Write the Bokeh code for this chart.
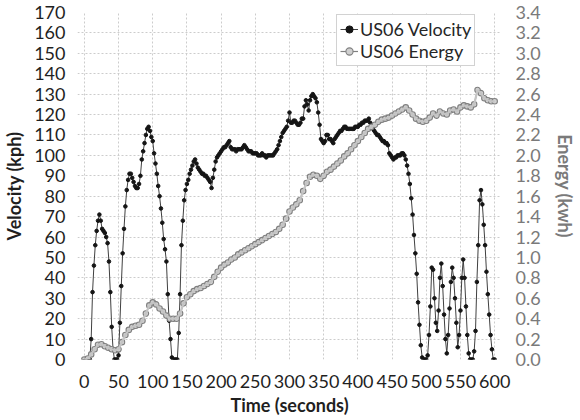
from bokeh.plotting import figure
from bokeh.models import (Range1d, LinearAxis, FixedTicker, Legend, LegendItem,
                          PrintfTickFormatter)
from bokeh.embed import file_html
from bokeh.resources import INLINE

# ---- data ----
time_s = list(range(0, 601, 2))
velocity_kph = [
    0, 0, 0, 0, 0, 10, 33, 46, 56, 63, 68, 71, 68, 64, 63, 62, 60, 57, 48, 33, 16, 5, 0, 0, 0,
    2, 18, 36, 52, 64, 75, 83, 88, 91, 91, 89, 87, 85, 84, 84, 86, 90, 98, 102, 106, 110, 113, 114, 112, 109,
    107, 101, 96, 91, 85, 80, 74, 67, 59, 54, 48, 32, 19, 10, 1, 0, 0, 0, 0, 13, 32, 56, 68, 78, 83,
    86, 88, 91, 93, 95, 97, 98, 96, 94, 93, 92, 91, 91, 90, 90, 89, 88, 87, 84, 89, 93, 97, 99, 100, 101,
    102, 103, 104, 104, 105, 106, 107, 104, 103, 103, 103, 102, 103, 103, 103, 103, 104, 105, 104, 103, 102, 102, 102, 101, 101,
    101, 101, 100, 100, 100, 101, 100, 100, 99, 100, 100, 100, 100, 100, 101, 102, 103, 105, 107, 109, 111, 112, 113, 114, 117,
    121, 116, 116, 117, 117, 116, 115, 115, 116, 118, 118, 124, 127, 125, 122, 127, 129, 130, 129, 128, 126, 121, 115, 108, 107,
    106, 107, 110, 110, 108, 108, 107, 106, 108, 109, 110, 111, 112, 112, 113, 114, 114, 113, 113, 113, 113, 113, 113, 114, 114,
    114, 115, 115, 116, 116, 117, 117, 117, 118, 116, 115, 113, 112, 111, 110, 110, 109, 108, 107, 107, 106, 106, 105, 101, 100,
    99, 98, 99, 99, 100, 100, 100, 101, 101, 100, 98, 95, 91, 86, 79, 71, 61, 52, 42, 28, 17, 7, 1, 0, 0,
    0, 2, 12, 26, 45, 44, 30, 18, 14, 24, 40, 47, 36, 22, 10, 3, 12, 25, 38, 45, 40, 30, 18, 6, 12,
    24, 40, 49, 40, 26, 12, 3, 0, 0, 0, 4, 14, 38, 56, 78, 83, 76, 66, 56, 43, 32, 22, 12, 5, 0,
    0,
]

energy_time_s = list(range(0, 601, 5))
energy_kwh = [
    0.00, 0.01, 0.05, 0.10, 0.145, 0.15, 0.13, 0.115, 0.10, 0.09,
    0.10, 0.17, 0.24, 0.29, 0.32, 0.33, 0.34, 0.38, 0.45, 0.53,
    0.56, 0.54, 0.50, 0.47, 0.43, 0.40, 0.40, 0.40, 0.45, 0.55,
    0.61, 0.64, 0.67, 0.69, 0.70, 0.72, 0.74, 0.76, 0.81, 0.86,
    0.90, 0.93, 0.95, 0.98, 1.00, 1.03, 1.05, 1.07, 1.09, 1.11,
    1.13, 1.15, 1.17, 1.19, 1.21, 1.23, 1.25, 1.28, 1.32, 1.38,
    1.45, 1.49, 1.52, 1.56, 1.65, 1.73, 1.79, 1.81, 1.80, 1.77,
    1.80, 1.84, 1.86, 1.89, 1.92, 1.95, 1.99, 2.02, 2.06, 2.10,
    2.14, 2.18, 2.22, 2.26, 2.28, 2.30, 2.33, 2.35, 2.36, 2.37,
    2.39, 2.41, 2.43, 2.45, 2.47, 2.44, 2.40, 2.36, 2.34, 2.33,
    2.34, 2.37, 2.41, 2.39, 2.43, 2.41, 2.40, 2.44, 2.45, 2.43,
    2.47, 2.49, 2.48, 2.47, 2.50, 2.64, 2.61, 2.56, 2.54, 2.53,
    2.53,
]

time_ticks = list(range(0, 601, 50))
velocity_ticks = list(range(0, 171, 10))
energy_ticks = [round(0.2 * i, 1) for i in range(18)]

FONT = "Lato"

p = figure(width=578, height=418, output_backend="svg", toolbar_location=None,
           x_range=Range1d(-10, 610), y_range=Range1d(0, 170),
           min_border_left=71, min_border_right=66, min_border_top=12,
           min_border_bottom=57)
p.extra_y_ranges = {"energy": Range1d(0, 3.4)}
p.outline_line_color = None
p.background_fill_color = "white"
p.border_fill_color = "white"

# grids
for g in (p.xgrid[0], p.ygrid[0]):
    g.grid_line_color = "#cccccc"
    g.grid_line_dash = "2 2"
    g.grid_line_width = 1

# bottom axis
xa = p.xaxis[0]
xa.ticker = FixedTicker(ticks=time_ticks)
xa.axis_label = "Time (seconds)"

# left axis
ya = p.yaxis[0]
ya.ticker = FixedTicker(ticks=velocity_ticks)
ya.axis_label = "Velocity (kph)"

# right axis
ra = LinearAxis(y_range_name="energy", ticker=FixedTicker(ticks=energy_ticks),
                formatter=PrintfTickFormatter(format="%.1f"),
                axis_label="Energy (kwh)")
p.add_layout(ra, "right")

for ax in (xa, ya, ra):
    ax.axis_line_color = None
    ax.major_tick_line_color = None
    ax.minor_tick_line_color = None
    ax.major_label_text_font = FONT
    ax.major_label_text_font_size = "18px"
    ax.major_label_text_color = "#1f1f1f"
    ax.axis_label_text_font = FONT
    ax.axis_label_text_font_size = "18px"
    ax.axis_label_text_font_style = "bold"
    ax.axis_label_text_color = "#1f1f1f"
    ax.major_label_standoff = 6
    ax.axis_label_standoff = 6

xa.major_label_standoff = 9
xa.axis_label_standoff = 3
ra.major_label_text_color = "#7a7a7a"
ra.axis_label_text_color = "#7a7a7a"
ra.major_label_standoff = 8
ra.axis_label_standoff = 10

# velocity series
v_line = p.line(time_s, velocity_kph, line_color="#404040", line_width=1)
v_dots = p.scatter(time_s, velocity_kph, size=3.6, fill_color="#151515",
                   line_color="#151515", line_width=1)

# energy series (secondary axis)
e_line = p.line(energy_time_s, energy_kwh, y_range_name="energy",
                line_color="#808080", line_width=1.2)
e_dots = p.scatter(energy_time_s, energy_kwh, y_range_name="energy", size=5.5,
                   fill_color="#cfcfcf", line_color="#7f7f7f", line_width=1.1)
e_core = p.line(energy_time_s, energy_kwh, y_range_name="energy",
                line_color="#c4c4c4", line_width=2.2)

legend = Legend(items=[
    LegendItem(label="US06 Velocity", renderers=[v_line, v_dots]),
    LegendItem(label="US06 Energy", renderers=[e_line, e_dots]),
], location=(259, 293))
legend.border_line_color = "#a6a6a6"
legend.border_line_width = 1
legend.background_fill_color = "white"
legend.background_fill_alpha = 1
legend.padding = 3
legend.spacing = 0
legend.margin = 0
legend.glyph_width = 18
legend.glyph_height = 20
legend.label_height = 20
legend.label_standoff = 2
legend.label_text_font = FONT
legend.label_text_font_size = "18px"
legend.label_text_color = "#262626"
p.add_layout(legend)

open("out.html", "w").write(file_html(p, INLINE))
